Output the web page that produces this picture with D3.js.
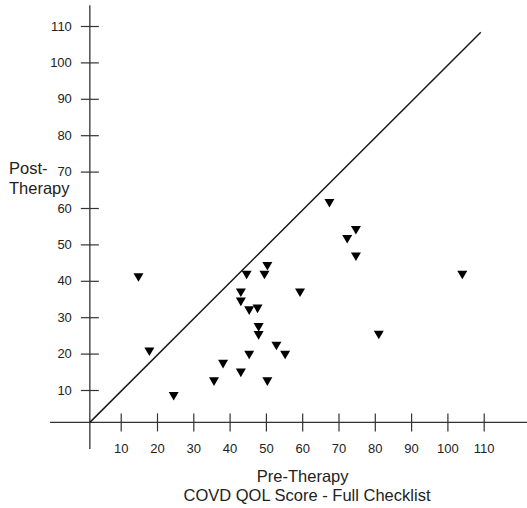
<!DOCTYPE html>
<html>
<head>
<meta charset="utf-8">
<script src="https://cdn.jsdelivr.net/npm/d3@7"></script>
<style>
  html, body { margin: 0; padding: 0; background: #fff; }
  svg { display: block; font-family: "Liberation Sans", Arial, sans-serif; }
</style>
</head>
<body>
<script>
// ---- Data ----
const preTherapy  = [14.9, 17.9, 24.6, 35.7, 38.2, 43.1, 43.1, 43.1, 44.7, 45.4, 45.4, 47.7, 48.0, 48.0, 49.6, 50.4, 50.4, 52.9, 55.3, 59.4, 67.5, 72.4, 74.8, 74.8, 81.1, 104.1];
const postTherapy = [40.9, 20.5, 8.3, 12.3, 17.1, 14.7, 36.7, 34.2, 41.6, 31.8, 19.6, 32.3, 27.2, 25.0, 41.6, 44.0, 12.3, 22.1, 19.6, 36.7, 61.3, 51.4, 53.9, 46.6, 25.1, 41.6];
const xTicks = [10, 20, 30, 40, 50, 60, 70, 80, 90, 100, 110];
const yTicks = [10, 20, 30, 40, 50, 60, 70, 80, 90, 100, 110];
const refLine = [[1.5, 1.1], [109.2, 108.3]];   // line of equality
const axisCross = { x: 1.5, y: 1.1 };
const xAxisExtent = [-9.5, 122];
const yAxisExtent = [-6.2, 115.7];
const yTitle = ["Post-", "Therapy"];
const xTitle = ["Pre-Therapy", "COVD QOL Score - Full Checklist"];

const W = 527, H = 508;
const svg = d3.select("body").append("svg").attr("width", W).attr("height", H);

const x = d3.scaleLinear().domain([10, 110]).range([120.7, 483.7]);
const y = d3.scaleLinear().domain([10, 110]).range([390, 26]);

const axisColor = "#333";
const textColor = "#222";
const tickFont = "13px";

// axis lines
svg.append("line")
  .attr("x1", x(xAxisExtent[0])).attr("x2", x(xAxisExtent[1]))
  .attr("y1", y(axisCross.y)).attr("y2", y(axisCross.y))
  .attr("stroke", axisColor).attr("stroke-width", 1.3);
svg.append("line")
  .attr("x1", x(axisCross.x)).attr("x2", x(axisCross.x))
  .attr("y1", y(yAxisExtent[0])).attr("y2", y(yAxisExtent[1]))
  .attr("stroke", axisColor).attr("stroke-width", 1.3);

// x axis ticks
const gx = svg.append("g")
  .attr("transform", `translate(0,${y(axisCross.y)})`)
  .call(d3.axisBottom(x).tickValues(xTicks).tickSize(9).tickPadding(12));
gx.attr("font-size", null).attr("font-family", null);
gx.select(".domain").remove();
gx.selectAll(".tick line").attr("y1", -9).attr("y2", 9).attr("stroke", axisColor).attr("stroke-width", 1.2);
gx.selectAll(".tick text")
  .attr("y", 30.5).attr("dy", null)
  .attr("fill", textColor)
  .style("font-size", tickFont);

// y axis ticks
const gy = svg.append("g")
  .attr("transform", `translate(${x(axisCross.x)},0)`)
  .call(d3.axisLeft(y).tickValues(yTicks).tickSize(9).tickPadding(9));
gy.attr("font-size", null).attr("font-family", null);
gy.select(".domain").remove();
gy.selectAll(".tick line").attr("x1", -9).attr("x2", 9).attr("stroke", axisColor).attr("stroke-width", 1.2);
gy.selectAll(".tick text")
  .attr("fill", textColor)
  .style("font-size", tickFont);

// line of equality
svg.append("path")
  .datum(refLine)
  .attr("d", d3.line().x(d => x(d[0])).y(d => y(d[1])))
  .attr("fill", "none").attr("stroke", "#1a1a1a").attr("stroke-width", 1.5);

// points (downward triangles)
const tri = "M-5,-4.3L5,-4.3L0,4.3Z";
svg.append("g").selectAll("path")
  .data(preTherapy.map((v, i) => [v, postTherapy[i]]))
  .join("path")
  .attr("d", tri)
  .attr("transform", d => `translate(${x(d[0])},${y(d[1])})`)
  .attr("fill", "#000");

// y title
svg.append("text")
  .attr("fill", textColor).style("font-size", "16.5px")
  .selectAll("tspan").data(yTitle).join("tspan")
  .attr("x", 9).attr("y", (d, i) => 174 + i * 19.5)
  .text(d => d);

// x title
svg.append("text")
  .attr("fill", textColor).style("font-size", "16.5px")
  .attr("text-anchor", "middle")
  .selectAll("tspan").data(xTitle).join("tspan")
  .attr("x", (d, i) => i === 0 ? 302.7 : 307).attr("y", (d, i) => 482 + i * 18.5)
  .text(d => d);
</script>
</body>
</html>
